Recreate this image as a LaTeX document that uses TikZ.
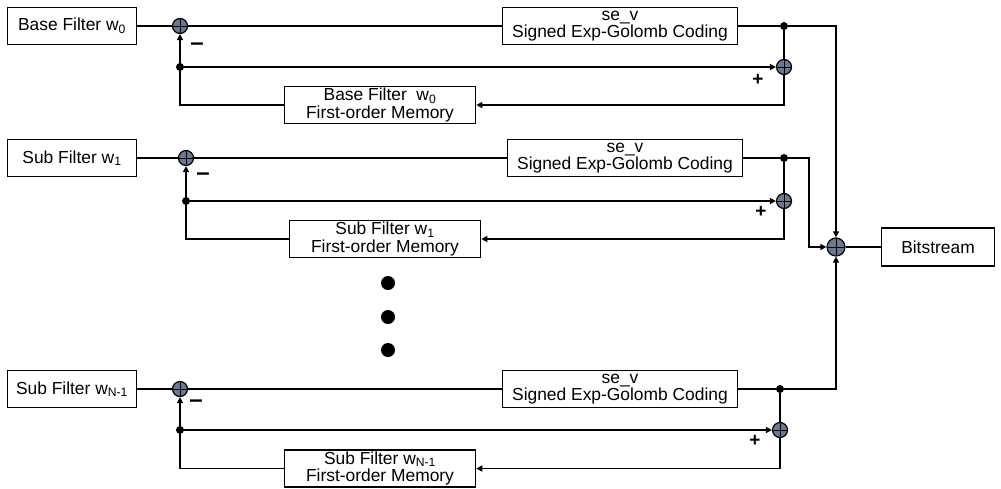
\documentclass[tikz,border=0pt]{standalone}
\usepackage{fontspec}
\setmainfont{Liberation Sans}
\usetikzlibrary{arrows.meta}
\definecolor{grisazul}{RGB}{108,120,140}
\begin{document}
\begin{tikzpicture}[
        x=1pt, y=-1pt,
        font=\fontsize{17.4}{17.5}\selectfont,
        bloque/.style={draw, line width=1.6pt, align=center, inner sep=1pt, minimum height=37pt},
        entrada/.style={bloque, minimum width=129pt},
        codigo/.style={bloque, minimum width=235pt},
        memoria/.style={bloque, minimum width=191pt},
        sumador/.style={circle, draw, line width=1.2pt, fill=grisazul, minimum size=15pt, inner sep=0pt,
        path picture={\draw[line width=1pt] (path picture bounding box.north) -- (path picture bounding box.south)
        (path picture bounding box.west) -- (path picture bounding box.east);}},
        punto/.style={circle, fill, minimum size=8pt, inner sep=0pt},
        signo/.style={font=\bfseries\fontsize{19}{19}\selectfont, inner sep=0pt},
        linea/.style={line width=1.8pt},
        flecha/.style={linea, -{Triangle[length=6pt, width=6pt]}}
    ]
        \useasboundingbox (0,0) rectangle (1001,488);
        % primer filtro
        \node[entrada] (in1) at (72,26) {Base Filter w\textsubscript{0}};
        \node[sumador] (s1a) at (180,26) {};
        \node[codigo] (cod1) at (620,26) {se\_v\\Signed Exp-Golomb Coding};
        \node[punto] (j1) at (784,26) {};
        \node[sumador] (s1b) at (784,67) {};
        \node[punto] (d1) at (180,67) {};
        \node[memoria] (mem1) at (380,105) {Base Filter\ \ w\textsubscript{0}\\First-order Memory};
        \node[signo] (menos1) at (197,47) {\fontsize{24}{24}\selectfont –};
        \node[signo] (mas1) at (758,80) {+};
        \draw[linea] (in1) -- (s1a) -- (cod1) -- (j1) -- (s1b);
        \draw[flecha] (d1) -- (s1b);
        \draw[flecha] (s1b) |- (mem1);
        \draw[flecha] (mem1) -| (s1a);
        % segundo filtro
        \node[entrada] (in2) at (72,158) {Sub Filter w\textsubscript{1}};
        \node[sumador] (s2a) at (186,158) {};
        \node[codigo] (cod2) at (625,158) {se\_v\\Signed Exp-Golomb Coding};
        \node[punto] (j2) at (784,158) {};
        \node[sumador] (s2b) at (784,201) {};
        \node[punto] (d2) at (186,201) {};
        \node[memoria] (mem2) at (385,239) {Sub Filter w\textsubscript{1}\\First-order Memory};
        \node[signo] (menos2) at (203,177) {\fontsize{24}{24}\selectfont –};
        \node[signo] (mas2) at (761,212) {+};
        \draw[linea] (in2) -- (s2a) -- (cod2) -- (j2) -- (s2b);
        \draw[flecha] (d2) -- (s2b);
        \draw[flecha] (s2b) |- (mem2);
        \draw[flecha] (mem2) -| (s2a);
        % puntos suspensivos
        \node[punto, minimum size=14pt] (p1) at (388,283) {};
        \node[punto, minimum size=14pt] (p2) at (388,317) {};
        \node[punto, minimum size=14pt] (p3) at (388,350) {};
        % ultimo filtro
        \node[entrada] (in3) at (72,389) {Sub Filter w\textsubscript{N-1}};
        \node[sumador] (s3a) at (180,389) {};
        \node[codigo] (cod3) at (620,389) {se\_v\\Signed Exp-Golomb Coding};
        \node[punto] (j3) at (780,389) {};
        \node[sumador] (s3b) at (780,430) {};
        \node[punto] (d3) at (180,430) {};
        \node[memoria] (mem3) at (380,468.5) {Sub Filter w\textsubscript{N-1}\\First-order Memory};
        \node[signo] (menos3) at (196,404) {\fontsize{24}{24}\selectfont –};
        \node[signo] (mas3) at (755,441) {+};
        \draw[linea] (in3) -- (s3a) -- (cod3) -- (j3) -- (s3b);
        \draw[flecha] (d3) -- (s3b);
        \draw[flecha] (s3b) |- (mem3);
        \draw[flecha] (mem3) -| (s3a);
        % suma final
        \node[sumador, minimum size=18pt] (total) at (836,247) {};
        \node[bloque, minimum width=113pt, minimum height=38pt] (bits) at (938,247) {Bitstream};
        \coordinate (c2) at (809,158);
        \draw[flecha] (j1) -| (total);
        \draw[flecha] (j2) -- (c2) |- (total);
        \draw[flecha] (j3) -| (total);
        \draw[linea] (total) -- (bits);
    \end{tikzpicture}
\end{document}
